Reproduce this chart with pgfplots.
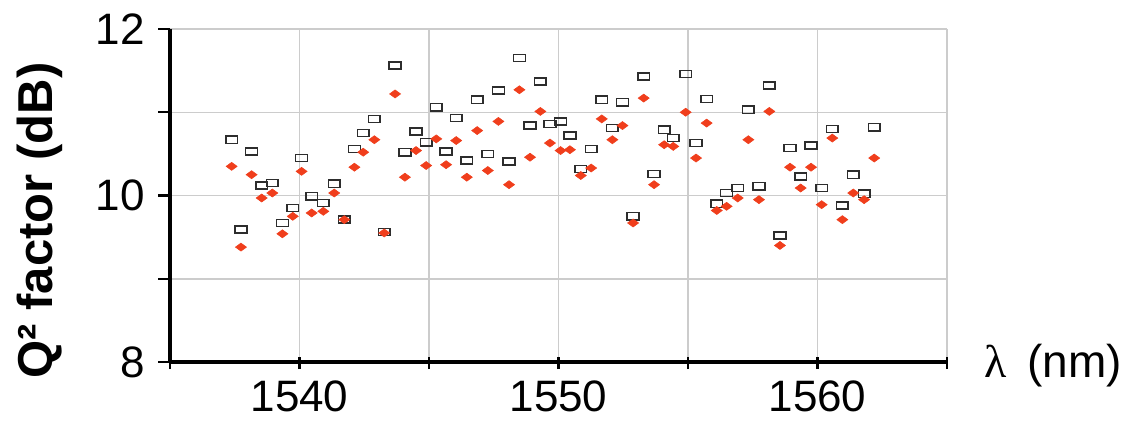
\documentclass[border=0pt]{standalone}
\usepackage{fontspec}
\setmainfont{Liberation Sans}
\newfontfamily\seriffont{Liberation Serif}
\usepackage{pgfplots}
\usepackage{pgfplotstable}
\pgfplotsset{compat=1.18}
\definecolor{qred}{RGB}{240,62,28}
\definecolor{qblk}{RGB}{45,45,45}
\pgfdeclareplotmark{wrect}{%
  \pgfpathrectangle{\pgfqpoint{-1.63\pgfplotmarksize}{-\pgfplotmarksize}}{\pgfqpoint{3.26\pgfplotmarksize}{2\pgfplotmarksize}}%
  \pgfusepathqstroke}
\pgfdeclareplotmark{wdiam}{%
  \pgfpathmoveto{\pgfqpoint{1.375\pgfplotmarksize}{0pt}}%
  \pgfpathlineto{\pgfqpoint{0pt}{\pgfplotmarksize}}%
  \pgfpathlineto{\pgfqpoint{-1.375\pgfplotmarksize}{0pt}}%
  \pgfpathlineto{\pgfqpoint{0pt}{-\pgfplotmarksize}}%
  \pgfpathclose
  \pgfusepathqfillstroke}

\pgfplotstableread{
x b r
1537.38 10.67 10.35
1537.74 9.59 9.38
1538.15 10.53 10.25
1538.54 10.12 9.97
1538.95 10.15 10.03
1539.34 9.67 9.54
1539.74 9.85 9.75
1540.08 10.45 10.29
1540.47 9.99 9.79
1540.92 9.91 9.81
1541.34 10.14 10.03
1541.73 9.71 9.71
1542.12 10.56 10.34
1542.46 10.75 10.52
1542.89 10.92 10.67
1543.27 9.56 9.55
1543.69 11.56 11.22
1544.07 10.52 10.22
1544.50 10.77 10.54
1544.89 10.64 10.36
1545.28 11.06 10.68
1545.66 10.53 10.37
1546.05 10.93 10.66
1546.46 10.42 10.22
1546.86 11.15 10.78
1547.27 10.50 10.30
1547.68 11.26 10.89
1548.09 10.41 10.13
1548.49 11.65 11.27
1548.90 10.84 10.46
1549.30 11.37 11.01
1549.67 10.86 10.63
1550.08 10.89 10.54
1550.44 10.72 10.55
1550.86 10.32 10.24
1551.26 10.56 10.33
1551.67 11.15 10.92
1552.08 10.81 10.67
1552.47 11.12 10.84
1552.88 9.75 9.67
1553.29 11.43 11.17
1553.69 10.26 10.13
1554.08 10.79 10.61
1554.43 10.69 10.59
1554.91 11.46 11.00
1555.31 10.63 10.45
1555.72 11.16 10.87
1556.11 9.90 9.82
1556.49 10.03 9.87
1556.92 10.09 9.97
1557.33 11.03 10.67
1557.74 10.11 9.95
1558.14 11.32 11.01
1558.55 9.52 9.40
1558.94 10.57 10.34
1559.35 10.23 10.09
1559.75 10.60 10.34
1560.16 10.09 9.89
1560.57 10.80 10.69
1560.96 9.88 9.71
1561.38 10.25 10.03
1561.80 10.02 9.95
1562.19 10.82 10.45
}\datatable

\begin{document}
\begin{tikzpicture}
\begin{axis}[
  scale only axis,
  width=388.5pt, height=166.5pt,
  xmin=1535, xmax=1565, ymin=8, ymax=12,
  axis lines=left,
  axis line style={-, black, line width=1.6pt},
  xtick={1535,1540,1545,1550,1555,1560,1565},
  xticklabels={,1540,,1550,,1560,},
  ytick={8,9,10,11,12},
  yticklabels={8,,10,,12},
  tick align=outside,
  major tick length=6pt,
  tick style={black, line width=1.2pt},
  xtick style={yshift=2.5pt},
  grid=major,
  major grid style={draw=gray!40, line width=0.75pt},
  /pgf/number format/assume math mode=true,
  ticklabel style={font=\fontsize{22}{26}\selectfont},
  yticklabel style={xshift=-3pt},
  ylabel={Q² factor (dB)},
  ylabel style={at={(axis description cs:-0.167,0.425)}, anchor=center, font=\fontsize{24.5}{28}\selectfont\bfseries},
  clip=false,
]
\coordinate (SW) at (rel axis cs:0,0);
\coordinate (NE) at (rel axis cs:1,1);
\addplot[only marks, mark=wrect, mark size=1.8pt, mark options={draw=qblk, line width=0.75pt}] table[x=x, y=b] {\datatable};
\addplot[only marks, mark=wdiam, mark size=2pt, mark options={draw=qred, fill=qred, line width=0.3pt}] table[x=x, y=r] {\datatable};
\node[anchor=west, inner sep=0pt, font=\fontsize{23}{27}\selectfont] at ([xshift=18.5pt,yshift=-2pt]rel axis cs:1,0) {{\seriffont λ}\hspace{0.45em}(nm)};
\end{axis}
\pgfresetboundingbox
\path[use as bounding box] ([xshift=-85pt,yshift=-33.5pt]SW) rectangle ([xshift=93.5pt,yshift=14.5pt]NE);
\end{tikzpicture}
\end{document}
